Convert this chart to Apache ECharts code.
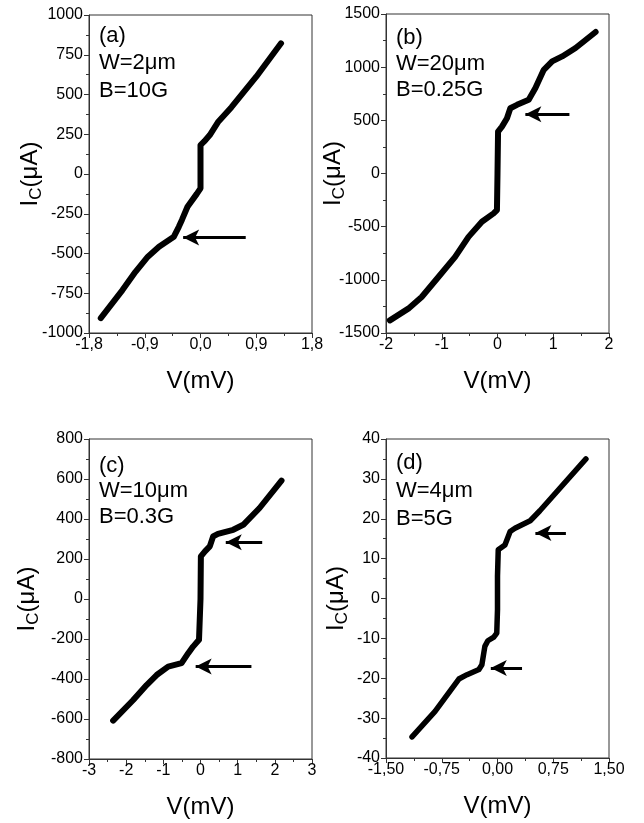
<!DOCTYPE html>
<html>
<head>
<meta charset="UTF-8">
<title>IC(V) curves</title>
<script src="https://cdn.jsdelivr.net/npm/echarts@6/dist/echarts.min.js"></script>
<style>
    html, body { margin: 0; padding: 0; background: #fff; }
    #chart { width: 644px; height: 823px; }
</style>
</head>
<body>
<div id="chart"></div>
<script>
// (a) W=2um, B=10G
const vA = [-1.61, -1.26, -1.05, -0.85, -0.67, -0.43, -0.35, -0.30, -0.21, -0.06, 0.00, 0.00, 0.06, 0.15, 0.28, 0.50, 0.90, 1.30];
const iA = [-906, -730, -615, -520, -457, -394, -332, -289, -206, -125, -90, 182, 205, 245, 325, 420, 612, 822];
// (b) W=20um, B=0.25G
const vB = [-1.93, -1.60, -1.36, -1.06, -0.76, -0.52, -0.28, -0.07, -0.01, 0.00, 0.01, 0.08, 0.17, 0.23, 0.35, 0.56, 0.68, 0.83, 0.98, 1.16, 1.40, 1.76];
const iB = [-1381, -1271, -1161, -973, -784, -596, -454, -375, -344, 0, 394, 441, 520, 614, 646, 693, 803, 975, 1054, 1101, 1180, 1331];
// (c) W=10um, B=0.3G
const vC = [-2.35, -1.81, -1.45, -1.18, -0.87, -0.51, -0.33, -0.20, -0.04, 0.00, 0.01, 0.12, 0.25, 0.34, 0.47, 0.88, 1.15, 1.59, 2.18];
const iC = [-608, -505, -430, -380, -338, -321, -271, -238, -204, 0, 213, 238, 263, 313, 326, 346, 371, 455, 592];
// (d) W=4um, B=5G
const vD = [-1.15, -0.84, -0.52, -0.41, -0.25, -0.21, -0.17, -0.13, -0.05, -0.01, 0.00, 0.00, 0.01, 0.10, 0.17, 0.235, 0.44, 0.57, 1.19];
const iD = [-34.7, -28.3, -20.2, -19.1, -17.8, -16.6, -12.0, -10.6, -9.7, -8.7, -2.8, 5.6, 12.2, 13.4, 16.8, 17.6, 19.5, 22.0, 35.0];

// arrows: [tipV, tailV, I]
const arrowsA = [[-0.28, 0.73, -400]];
const arrowsB = [[0.50, 1.29, 558]];
const arrowsC = [[0.68, 1.66, 284], [-0.13, 1.37, -338]];
const arrowsD = [[0.51, 0.92, 16.4], [-0.09, 0.33, -17.4]];

// axis ranges and tick steps
const xMin = [-1.8, -2, -3, -1.5];
const xMax = [1.8, 2, 3, 1.5];
const xStep = [0.9, 1, 1, 0.75];
const xDecimals = [1, 0, 0, 2];
const yMin = [-1000, -1500, -800, -40];
const yMax = [1000, 1500, 800, 40];
const yStep = [250, 500, 200, 10];

const notes = [
    ['(a)', 'W=2\u03bcm', 'B=10G'],
    ['(b)', 'W=20\u03bcm', 'B=0.25G'],
    ['(c)', 'W=10\u03bcm', 'B=0.3G'],
    ['(d)', 'W=4\u03bcm', 'B=5G']
];

const volts = [vA, vB, vC, vD];
const currents = [iA, iB, iC, iD];
const arrows = [arrowsA, arrowsB, arrowsC, arrowsD];

const font = 'Liberation Sans, Arial, sans-serif';
const axisColor = '#333';

const grids = [
    { left: 89, top: 15, width: 223, height: 318 },
    { left: 386, top: 14, width: 223, height: 319 },
    { left: 89, top: 439, width: 223, height: 320 },
    { left: 386, top: 439, width: 223, height: 319 }
];
const yNameGap = [44, 38, 47, 35];
const noteTop = [7, 11, 14, 10];
const noteLine = [27.5, 26, 25.5, 28];
const curveWidth = [6, 6, 6, 5.5];

const chart = echarts.init(document.getElementById('chart'));

const option = {
    animation: false,
    backgroundColor: '#fff',
    grid: grids.map(g => Object.assign({ show: true, borderColor: axisColor, borderWidth: 1, containLabel: false }, g)),
    xAxis: grids.map((g, k) => ({
        type: 'value',
        gridIndex: k,
        min: xMin[k],
        max: xMax[k],
        interval: xStep[k],
        name: 'V(mV)',
        nameLocation: 'middle',
        nameGap: 36,
        nameMoveOverlap: false,
        nameTextStyle: { fontFamily: font, fontSize: 24, color: '#000' },
        axisLine: { show: true, onZero: false, lineStyle: { color: axisColor, width: 1 } },
        axisTick: { show: true, inside: false, length: 5, lineStyle: { color: axisColor } },
        minorTick: { show: true, splitNumber: 2, length: 3, lineStyle: { color: axisColor } },
        splitLine: { show: false },
        axisLabel: {
            margin: 4,
            fontFamily: font,
            fontSize: 16,
            color: '#000',
            formatter: v => {
                const n = Math.abs(v) < 1e-9 ? 0 : v;
                return n.toFixed(xDecimals[k]).replace('.', ',');
            }
        }
    })),
    yAxis: grids.map((g, k) => ({
        type: 'value',
        gridIndex: k,
        min: yMin[k],
        max: yMax[k],
        interval: yStep[k],
        name: '{i|I}{s|C}{i|(\u03bcA)}',
        nameLocation: 'middle',
        nameRotate: 90,
        nameGap: yNameGap[k],
        nameMoveOverlap: false,
        nameTextStyle: {
            fontFamily: font,
            color: '#000',
            rich: {
                i: { fontFamily: font, fontSize: 24, lineHeight: 30, color: '#000' },
                s: { fontFamily: font, fontSize: 17, lineHeight: 16, verticalAlign: 'bottom', color: '#000' }
            }
        },
        axisLine: { show: true, onZero: false, lineStyle: { color: axisColor, width: 1 } },
        axisTick: { show: true, inside: false, length: 5, lineStyle: { color: axisColor } },
        minorTick: { show: true, splitNumber: 2, length: 3, lineStyle: { color: axisColor } },
        splitLine: { show: false },
        axisLabel: { margin: 6, fontFamily: font, fontSize: 16, color: '#000', formatter: v => String(v) }
    })),
    graphic: grids.map((g, k) => ({
        type: 'text',
        left: g.left + 10,
        top: g.top + noteTop[k],
        silent: true,
        style: {
            text: notes[k].join('\n'),
            fontFamily: font,
            fontSize: 22,
            lineHeight: noteLine[k],
            fill: '#000'
        }
    })),
    series: grids.map((g, k) => ({
        type: 'line',
        xAxisIndex: k,
        yAxisIndex: k,
        data: volts[k].map((v, j) => [v, currents[k][j]]),
        showSymbol: false,
        symbol: 'none',
        silent: true,
        lineStyle: { color: '#000', width: curveWidth[k], cap: 'round', join: 'round' },
        markLine: {
            silent: true,
            symbol: ['arrow', 'none'],
            symbolSize: [12, 16],
            label: { show: false },
            lineStyle: { color: '#000', width: 3, type: 'solid' },
            data: arrows[k].map(a => [{ coord: [a[0], a[2]] }, { coord: [a[1], a[2]] }])
        }
    }))
};

chart.setOption(option);
</script>
</body>
</html>
